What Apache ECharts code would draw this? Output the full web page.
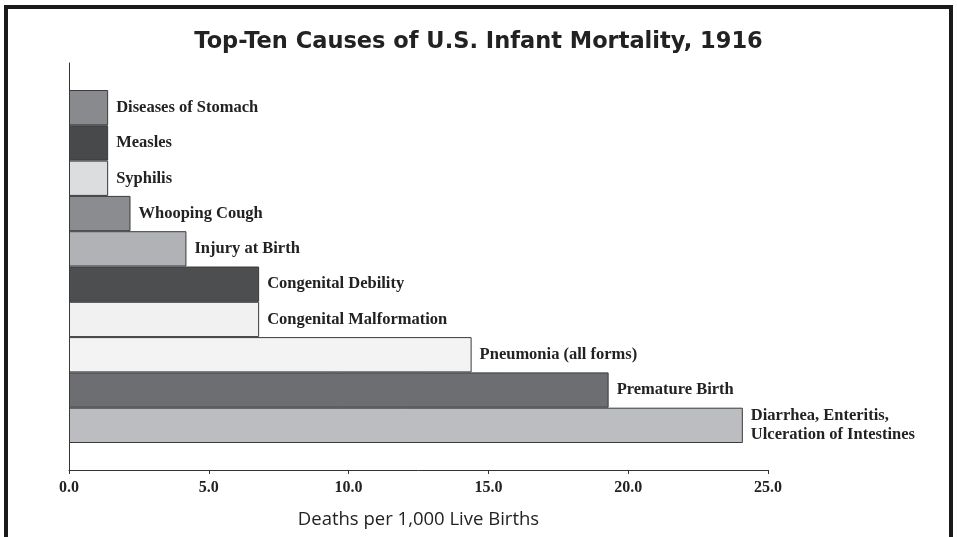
<!DOCTYPE html>
<html>
<head>
<meta charset="utf-8">
<script src="https://cdn.jsdelivr.net/npm/echarts@6/dist/echarts.min.js"></script>
<style>
  html, body { margin: 0; padding: 0; background: #fff; }
  #chart { width: 957px; height: 537px; }
</style>
</head>
<body>
<div id="chart"></div>
<script>
// bottom to top
const causes = [
  'Diarrhea, Enteritis,\nUlceration of Intestines',
  'Premature Birth',
  'Pneumonia (all forms)',
  'Congenital Malformation',
  'Congenital Debility',
  'Injury at Birth',
  'Whooping Cough',
  'Syphilis',
  'Measles',
  'Diseases of Stomach'
]
const rates = [24.1, 19.3, 14.4, 6.8, 6.8, 4.2, 2.2, 1.4, 1.4, 1.4]
const barColors = [
  '#bcbdc0', '#6d6e71', '#f3f3f3', '#f1f1f1', '#4d4e50',
  '#b1b2b5', '#8b8c8f', '#dcdddf', '#48494b', '#898a8d'
]
const xTicks = [0, 5, 10, 15, 20, 25]

const chart = echarts.init(document.getElementById('chart'))
chart.setOption({
  backgroundColor: '#fff',
  animation: false,
  title: {
    text: 'Top-Ten Causes of U.S. Infant Mortality, 1916',
    left: 'center',
    top: 26,
    textStyle: {
      fontFamily: 'DejaVu Sans',
      fontSize: 22.5,
      fontWeight: 'bold',
      color: '#222'
    }
  },
  graphic: [{
    type: 'rect',
    shape: { x: 6, y: 7, width: 945, height: 560 },
    style: { fill: 'none', stroke: '#1a1a1a', lineWidth: 4 },
    silent: true
  }],
  grid: [
    // axes frame
    { left: 69, right: 189, top: 63, bottom: 67 },
    // bars
    { left: 69, right: 189, top: 90, bottom: 94 }
  ],
  xAxis: [{
    gridIndex: 0,
    type: 'value',
    min: 0,
    max: 25,
    interval: 5,
    name: 'Deaths per 1,000 Live Births',
    nameLocation: 'middle',
    nameGap: 40,
    nameTextStyle: {
      fontFamily: 'Open Sans',
      fontSize: 18.5,
      color: '#222'
    },
    axisLine: { show: true, lineStyle: { color: '#333', width: 1 } },
    axisTick: { show: true, length: 4, lineStyle: { color: '#333' } },
    axisLabel: {
      margin: 10,
      fontFamily: 'Liberation Serif',
      fontWeight: 'bold',
      fontSize: 16,
      color: '#222',
      formatter: v => xTicks.includes(v) ? v.toFixed(1) : ''
    },
    splitLine: { show: false }
  }, {
    gridIndex: 1,
    type: 'value',
    min: 0,
    max: 25,
    show: false
  }],
  yAxis: [{
    gridIndex: 0,
    type: 'value',
    min: 0,
    max: 1,
    axisLine: { show: true, lineStyle: { color: '#333', width: 1 } },
    axisTick: { show: false },
    axisLabel: { show: false },
    splitLine: { show: false }
  }, {
    gridIndex: 1,
    type: 'category',
    data: causes,
    show: false
  }],
  series: [{
    type: 'bar',
    xAxisIndex: 1,
    yAxisIndex: 1,
    barWidth: '100%',
    data: rates.map((v, i) => ({
      value: v,
      itemStyle: { color: barColors[i] }
    })),
    itemStyle: { borderColor: '#3a3a3a', borderWidth: 1 },
    label: {
      show: true,
      position: 'right',
      distance: 8,
      formatter: p => p.name,
      fontFamily: 'Liberation Serif',
      fontWeight: 'bold',
      fontSize: 16.5,
      lineHeight: 19,
      color: '#222',
      align: 'left'
    }
  }]
})
</script>
</body>
</html>
